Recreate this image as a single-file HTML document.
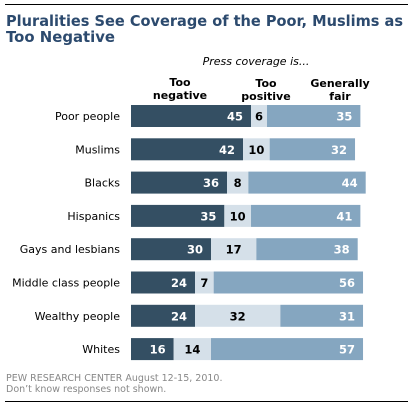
<!DOCTYPE html>
<html><head><meta charset="utf-8"><style>
body{margin:0;width:412px;height:405px;background:#fff;overflow:hidden;font-family:"DejaVu Sans","Liberation Sans",sans-serif}
</style></head><body>
<svg width="412" height="405" font-family="DejaVu Sans, Liberation Sans, sans-serif">
<line x1="5" y1="4.5" x2="408" y2="4.5" stroke="#000" stroke-width="1"/>
<text x="6" y="26" font-size="15" font-weight="bold" fill="#2c4a6e" textLength="397" lengthAdjust="spacingAndGlyphs">Pluralities See Coverage of the Poor, Muslims as</text>
<text x="6" y="42" font-size="15" font-weight="bold" fill="#2c4a6e" textLength="109" lengthAdjust="spacingAndGlyphs">Too Negative</text>
<text x="256" y="65" font-size="11" font-style="italic" text-anchor="middle" fill="#000">Press coverage is...</text>
<g font-size="11" font-weight="bold" text-anchor="middle" fill="#000">
<text x="180" y="86">Too</text><text x="180" y="99">negative</text>
<text x="266" y="87">Too</text><text x="266" y="100">positive</text>
<text x="340" y="87">Generally</text><text x="340" y="100">fair</text>
</g>
<g id="bars"></g>
<text x="6" y="381" font-size="9.5" fill="#888">PEW RESEARCH CENTER August 12-15, 2010.</text>
<text x="6" y="392" font-size="9.5" fill="#888">Don’t know responses not shown.</text>
<line x1="5" y1="401.5" x2="408" y2="401.5" stroke="#000" stroke-width="1"/>
</svg>
<script>
const categories=["Poor people","Muslims","Blacks","Hispanics","Gays and lesbians","Middle class people","Wealthy people","Whites"];
const tooNegative=[45,42,36,35,30,24,24,16];
const tooPositive=[6,10,8,10,17,7,32,14];
const generallyFair=[35,32,44,41,38,56,31,57];
const x0=131, scale=2.667, y0=105, step=33.3, bh=22;
const xs=v=>v*scale;
const g=document.getElementById('bars');
const NS="http://www.w3.org/2000/svg";
function mk(tag,attrs){const e=document.createElementNS(NS,tag);for(const k in attrs)e.setAttribute(k,attrs[k]);return e;}
categories.forEach((c,i)=>{
  const y=y0+i*step;
  const lab=mk('text',{x:120,y:y+bh/2+4,'font-size':11,'text-anchor':'end',fill:'#000'});
  lab.textContent=c;
  
  
  g.appendChild(lab);
  const segs=[[tooNegative[i],'#344f63','#fff','too-negative'],[tooPositive[i],'#d5e0e9','#000','too-positive'],[generallyFair[i],'#85a6c0','#fff','generally-fair']];
  let x=x0;
  segs.forEach(([v,col,tc,nm],j)=>{
    const w=xs(v);
    const r=mk('rect',{x:x,y:y,width:w,height:bh,fill:col});
    
    
    g.appendChild(r);
    const t=mk('text',{y:y+bh/2+4.5,'font-size':11.5,'font-weight':'bold',fill:tc});
    if(j===1){t.setAttribute('x',x+w/2);t.setAttribute('text-anchor','middle');}
    else{t.setAttribute('x',x+w-8);t.setAttribute('text-anchor','end');}
    t.textContent=v;
    
    
    g.appendChild(t);
    x+=w;
  });
});
</script>
</body></html>
